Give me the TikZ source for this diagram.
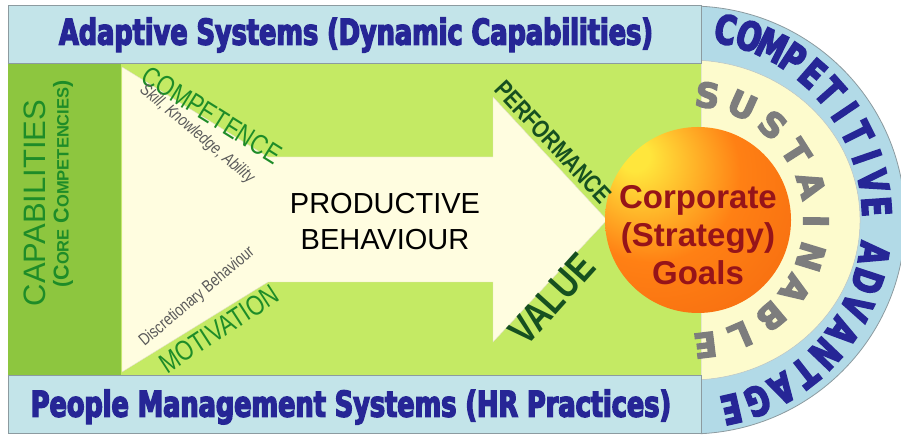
\documentclass[tikz,border=0pt]{standalone}
\usepackage{fontspec}
\setmainfont{Liberation Sans}
\newfontfamily\heavyfont[FakeStretch=0.72, BoldFeatures={FakeBold=4}]{DejaVu Sans}
\newfontfamily\blockfont[BoldFeatures={FakeBold=4}]{DejaVu Sans}
\newfontfamily\narrowfont[FakeStretch=0.8]{Liberation Sans}
\usetikzlibrary{positioning}

\definecolor{colgreen}{RGB}{141,198,63}
\definecolor{areagreen}{RGB}{196,234,100}
\definecolor{bandblue}{RGB}{195,228,233}
\definecolor{ringblue}{RGB}{178,218,231}
\definecolor{creamring}{RGB}{253,251,205}
\definecolor{creamarrow}{RGB}{255,253,224}
\definecolor{edgegray}{RGB}{140,155,160}
\definecolor{navy}{RGB}{38,38,150}
\definecolor{leafgreen}{RGB}{30,140,40}
\definecolor{darkleaf}{RGB}{22,80,32}
\definecolor{goalred}{RGB}{150,20,25}
\definecolor{textgray}{RGB}{90,90,90}
\definecolor{sustgray}{RGB}{125,125,125}
\definecolor{ballhi}{RGB}{255,230,60}
\definecolor{ballmid}{RGB}{255,128,20}
\definecolor{ballrim}{RGB}{228,68,8}

\pgfdeclareradialshading{goalball}{\pgfpoint{-18bp}{18bp}}{color(0bp)=(ballhi); color(4bp)=(ballhi); color(24bp)=(ballmid); color(48bp)=(ballmid!60!ballrim); color(62bp)=(ballrim); color(80bp)=(ballrim)}

\newcommand\smallcap[1]{{\fontsize{16.5}{16.5}\selectfont #1}}

\begin{document}
\begin{tikzpicture}[x=1pt,y=1pt]
\tikzset{
  band/.style={fill=bandblue, draw=edgegray, line width=0.8pt},
  bandtext/.style={font=\heavyfont\bfseries\fontsize{35.5}{36}\selectfont, text=navy, inner sep=0},
  edgeword/.style={font=\narrowfont\fontsize{28}{28}\selectfont, text=leafgreen, inner sep=0},
  smallword/.style={font=\narrowfont\fontsize{17}{17}\selectfont, text=textgray, inner sep=0},
  sustletter/.style={font=\blockfont\bfseries\fontsize{34}{34}\selectfont, text=sustgray, inner sep=0},
  completter/.style={font=\heavyfont\bfseries\fontsize{40}{40}\selectfont, text=navy, inner sep=0}
}
\useasboundingbox (0,0) rectangle (901,438);
\fill[white] (0,0) rectangle (901,438);

% competitive advantage ring
\begin{scope}
  \clip (0,0) rectangle (901,438);
  \filldraw[fill=ringblue, draw=edgegray, line width=0.8pt] (701,4.3) arc[start angle=-87.1, end angle=87.1, x radius=215, y radius=214] -- cycle;
\end{scope}
\filldraw[fill=creamring, draw=edgegray!60, line width=0.5pt] (701,58.3) arc[start angle=-86.3, end angle=86.3, x radius=170, y radius=160] -- cycle;

% capability area and bands
\fill[areagreen] (8,63) rectangle (701,375);
\fill[colgreen] (8,63) rectangle (121,375);
\filldraw[band] (8,375) rectangle (701,433);
\filldraw[band] (8,5) rectangle (701,63);

% behaviour arrow
\filldraw[fill=creamarrow, draw=creamarrow!88!black, line width=0.4pt] (122,371) -- (268,281) -- (493,281) -- (493,341) -- (607,218) -- (493,96) -- (493,156) -- (268,156) -- (122,66) -- cycle;

% goals sphere
\node[circle, minimum size=186pt, inner sep=0, shade, shading=goalball] (ball) at (698,218) {};

\node[bandtext] (adaptive) at (356,403) {Adaptive Systems (Dynamic Capabilities)};
\node[bandtext] (people) at (351,31) {People Management Systems (HR Practices)};

\node[rotate=90, font=\fontsize{31}{31}\selectfont, text=leafgreen, inner sep=0] (capab) at (35,235) {CAPABILITIES};
\node[rotate=90, font=\bfseries\fontsize{21.5}{21.5}\selectfont, text=leafgreen, inner sep=0] (corecomp) at (63,254) {(C\smallcap{ORE} C\smallcap{OMPETENCIES})};

\node[edgeword, rotate=-32] (competence) at (212,323) {COMPETENCE};
\node[smallword, font=\narrowfont\itshape\fontsize{17}{17}\selectfont, rotate=-40] (skills) at (197,304) {Skill, Knowledge, Ability};
\node[smallword, rotate=40] (discr) at (197,141) {Discretionary Behaviour};
\node[edgeword, rotate=33] (motivation) at (219,109) {MOTIVATION};

\node[font=\fontsize{29}{36}\selectfont, align=center, inner sep=0] (productive) at (385,216) {PRODUCTIVE\\BEHAVIOUR};

\node[font=\narrowfont\bfseries\fontsize{25}{25}\selectfont, text=darkleaf, rotate=-47, inner sep=0] (performance) at (553,296) {PERFORMANCE};
\node[font=\narrowfont\bfseries\fontsize{40}{40}\selectfont, text=darkleaf, rotate=48, inner sep=0] (value) at (552,139) {VALUE};

\node[font=\bfseries\fontsize{33}{38}\selectfont, text=goalred, align=center, inner sep=0] (goals) at (698,203) {Corporate\\(Strategy)\\Goals};

% letters round the arcs
\foreach \ch [count=\i from 0] in {S,U,S,T,A,I,N,A,B,L,E}{
  \pgfmathsetmacro\ang{82-16.5*\i}
  \node[sustletter, rotate=\ang-90] (sust-\i) at ({690+126*cos(\ang)},{218+126*sin(\ang)}) {\ch};
}
\foreach \ch [count=\i from 0] in {C,O,M,P,E,T,I,T,I,V,E}{
  \pgfmathsetmacro\ang{79-7.5*\i}
  \node[completter, rotate=\ang-90] (comp-\i) at ({690+187*cos(\ang)},{218+194*sin(\ang)}) {\ch};
}
\foreach \ch [count=\i from 0] in {A,D,V,A,N,T,A,G,E}{
  \pgfmathsetmacro\ang{-10-8.4*\i}
  \node[completter, rotate=\ang-90] (adv-\i) at ({690+187*cos(\ang)},{218+194*sin(\ang)}) {\ch};
}
\end{tikzpicture}
\end{document}
